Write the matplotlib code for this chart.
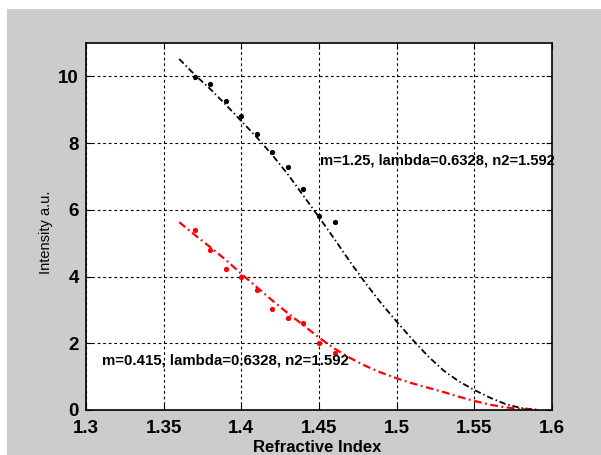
import matplotlib
matplotlib.use("Agg")
import matplotlib.pyplot as plt
from matplotlib.patches import Rectangle

plt.rcParams['font.family'] = ['Liberation Sans', 'DejaVu Sans']

# measured data
n_meas = [1.37, 1.38, 1.39, 1.40, 1.41, 1.42, 1.43, 1.44, 1.45, 1.46]
i_black = [9.97, 9.77, 9.26, 8.81, 8.26, 7.72, 7.27, 6.62, 5.82, 5.63]
i_red = [5.40, 4.80, 4.22, 4.00, 3.60, 3.02, 2.75, 2.60, 2.02, 1.70]

# fitted curves
n_fit = [1.36, 1.37, 1.38, 1.39, 1.40, 1.41, 1.42, 1.43, 1.44, 1.45, 1.46, 1.47,
         1.48, 1.49, 1.50, 1.51, 1.52, 1.53, 1.54, 1.55, 1.56, 1.57, 1.58, 1.59]
fit_black = [10.52, 10.05, 9.62, 9.15, 8.66, 8.17, 7.64, 7.06, 6.42, 5.78, 5.12, 4.44,
             3.80, 3.20, 2.65, 2.12, 1.62, 1.19, 0.86, 0.60, 0.37, 0.18, 0.06, 0.01]
fit_red = [5.63, 5.25, 4.88, 4.50, 4.08, 3.68, 3.28, 2.90, 2.54, 2.17, 1.84, 1.56,
           1.32, 1.12, 0.95, 0.80, 0.67, 0.54, 0.40, 0.27, 0.16, 0.08, 0.03, 0.0]

label_black = "m=1.25, lambda=0.6328, n2=1.592"
label_red = "m=0.415, lambda=0.6328, n2=1.592"

x_ticks = [1.3, 1.35, 1.4, 1.45, 1.5, 1.55, 1.6]
x_tick_labels = ["1.3", "1.35", "1.4", "1.45", "1.5", "1.55", "1.6"]
y_ticks = [0, 2, 4, 6, 8, 10]

fig = plt.figure(figsize=(6.01, 4.55), dpi=100, facecolor='white')
fig.patches.append(Rectangle((7 / 601, 0), 1, 1 - 9 / 455, transform=fig.transFigure,
                             facecolor='#cccccc', edgecolor='none', zorder=-10))
ax = fig.add_axes([86 / 601, 1 - 410 / 455, (552 - 86) / 601, (410 - 43) / 455])
ax.set_facecolor('white')

dashdot = (0, (3.5, 1.6, 0.8, 1.6))
ax.plot(n_fit, fit_black, color='black', linestyle=dashdot, linewidth=1.3)
ax.plot(n_meas, i_black, linestyle='none', marker='.', color='black', markersize=5.5)
ax.plot(n_fit, fit_red, color='red', linestyle=dashdot, linewidth=1.6)
ax.plot(n_meas, i_red, linestyle='none', marker='.', color='red', markersize=5.5)

ax.text(1.4507, 7.49, label_black, fontsize=10.6, fontweight='bold', va='center', ha='left')
ax.text(1.310, 1.47, label_red, fontsize=10.8, fontweight='bold', va='center', ha='left')

ax.set_xlim(1.3, 1.6)
ax.set_ylim(0, 11)
ax.set_xticks(x_ticks)
ax.set_xticklabels(x_tick_labels)
ax.set_yticks(y_ticks)
ax.grid(True, color='black', linestyle=(0, (2.5, 2.5)), linewidth=0.8)
ax.tick_params(direction='in', top=True, right=True, length=4, width=0.8,
               labelsize=13.5)
ax.tick_params(axis='x', pad=7)
ax.tick_params(axis='y', pad=5)
for lbl in ax.get_xticklabels() + ax.get_yticklabels():
    lbl.set_fontweight('bold')
for s in ax.spines.values():
    s.set_linewidth(1.2)

ax.set_xlabel("Refractive Index", fontsize=12, fontweight='bold')
ax.set_ylabel("Intensity a.u.", fontsize=10.5)
ax.xaxis.set_label_coords((317 - 86) / 466, -(440 - 410) / 367)
ax.yaxis.set_label_coords(-(86 - 53) / 466, (410 - 232) / 367)

fig.savefig("out.png", dpi=100, facecolor=fig.get_facecolor())
